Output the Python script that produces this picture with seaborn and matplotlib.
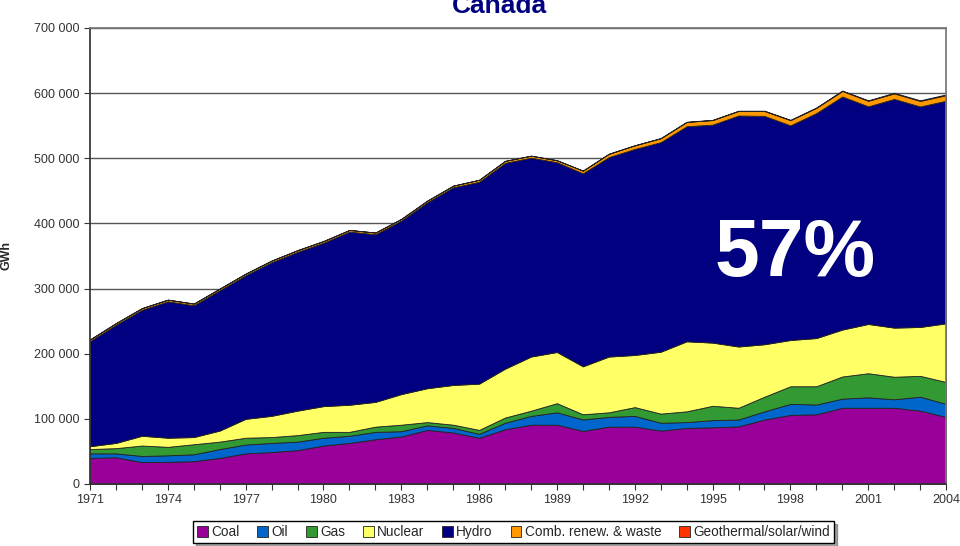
"""Canada electricity generation by source, 1971-2004 (stacked area)."""
import matplotlib
matplotlib.use("Agg")
import matplotlib.pyplot as plt
import matplotlib.ticker as mticker
import numpy as np
import pandas as pd
import seaborn as sns

sns.set_theme(style="white")
plt.rcParams["font.family"] = ["Liberation Sans", "DejaVu Sans"]

years = list(range(1971, 2005))

# cumulative tops (thousand GWh), then differenced
coal_top = [40, 41, 33.5, 34, 35, 40, 47, 49, 52, 59, 63, 68.6, 73, 83, 79, 71, 84,
            91, 91, 81.5, 88, 88, 82, 86, 87, 88.5, 99, 106, 107, 117, 117, 117, 112.6, 103]
oil_top = [47, 47, 43, 44, 45.6, 53.6, 60.6, 63, 65, 71, 74, 80, 81, 90, 86, 77, 94,
           104.5, 110, 99, 103, 104.5, 94, 95, 98, 99, 111.5, 123, 122, 131, 133, 130, 134, 123]
gas_top = [53.6, 55, 59, 57, 61, 65, 71, 72, 75, 80, 80, 88, 91, 95, 91, 83, 102,
           112.5, 124, 107, 110, 118, 108, 111.5, 120, 117, 134, 150, 150, 165, 170, 164.6, 166, 156.6]
nuclear_top = [58, 63, 74, 71, 72, 82, 100, 104.6, 112.6, 119.5, 121.6, 126, 138, 147, 152, 154, 177,
               195.6, 202.6, 180.6, 195.6, 198, 203, 219, 217, 211, 214.5, 221, 224, 237, 245.6, 240, 241, 246.6]
total = [222, 247, 270, 283, 277, 300, 323, 343, 359, 373, 390, 386, 407, 435, 458, 467, 496,
         504, 497, 481, 507, 520, 531, 556, 559, 573, 573, 559, 578, 604, 589, 600.5, 589, 598]
comb_renew = [2.5] * 15 + [3, 3, 3, 3, 4, 5, 5.5, 6, 6.5, 7, 7, 7.5, 8, 8, 8.5, 8.5, 8.5, 8.5, 8.5]
geo_solar_wind = [0.1] * 20 + [0.2, 0.2, 0.3, 0.3, 0.4, 0.4, 0.5, 0.5, 0.6, 0.7, 0.8, 0.9, 1.0, 1.2]

sources = ["Coal", "Oil", "Gas", "Nuclear", "Hydro", "Comb. renew. & waste", "Geothermal/solar/wind"]
colors = ["#990099", "#0066cc", "#339933", "#ffff66", "#000080", "#ff9900", "#ff3300"]

df = pd.DataFrame({"year": years, "coal_top": coal_top, "oil_top": oil_top, "gas_top": gas_top,
                   "nuclear_top": nuclear_top, "total": total,
                   "Comb. renew. & waste": comb_renew, "Geothermal/solar/wind": geo_solar_wind})
df["Coal"] = df["coal_top"]
df["Oil"] = df["oil_top"] - df["coal_top"]
df["Gas"] = df["gas_top"] - df["oil_top"]
df["Nuclear"] = df["nuclear_top"] - df["gas_top"]
df["Hydro"] = df["total"] - df["nuclear_top"] - df["Comb. renew. & waste"] - df["Geothermal/solar/wind"]
gwh = df[sources] * 1000

fig = plt.figure(figsize=(9.6, 5.46), dpi=100)
ax = fig.add_axes([0.09375, 0.1136, 0.8917, 0.8352])

ax.stackplot(df["year"], [gwh[s].values for s in sources], colors=colors, labels=sources,
             edgecolor="#222222", linewidth=0.6)

ax.set_xlim(1971, 2004)
ax.set_ylim(0, 700000)
ax.yaxis.set_major_locator(mticker.MultipleLocator(100000))
ax.yaxis.set_major_formatter(mticker.FuncFormatter(lambda v, _: f"{v:,.0f}".replace(",", " ")))
ax.xaxis.set_major_locator(mticker.MultipleLocator(3))
ax.xaxis.set_minor_locator(mticker.MultipleLocator(1))
ax.grid(axis="y", color="#555555", lw=1.0)
ax.set_axisbelow(True)
ax.tick_params(axis="both", which="both", direction="out", labelsize=9, colors="#333333")
ax.tick_params(axis="x", which="both", length=4, width=0.8, bottom=True)
ax.tick_params(axis="y", length=4, width=0.8, left=True)
for side in ["left", "bottom"]:
    ax.spines[side].set_color("#333333")
for side in ["top", "right"]:
    ax.spines[side].set_color("#777777")
ax.set_ylabel("GWh", fontsize=9, fontweight="bold")
ax.yaxis.set_label_coords(-0.091, 0.5)

ax.text(1998.2, 352000, "57%", color="white", fontsize=58, fontweight="bold",
        ha="center", va="center")
fig.text(0.52, 0.977, "Canada", color="#000080", fontsize=19, fontweight="bold",
         ha="center", va="baseline")

handles, labels = ax.get_legend_handles_labels()
leg = fig.legend(handles, labels, loc="center", bbox_to_anchor=(0.535, 0.025), ncol=7,
                 fontsize=9.8, frameon=True, fancybox=False, shadow=True,
                 handlelength=0.8, handleheight=0.8, handletextpad=0.25, columnspacing=1.3,
                 borderpad=0.3)
leg.get_frame().set_edgecolor("black")
leg.get_frame().set_linewidth(1.0)

fig.savefig("out.png", dpi=100)
